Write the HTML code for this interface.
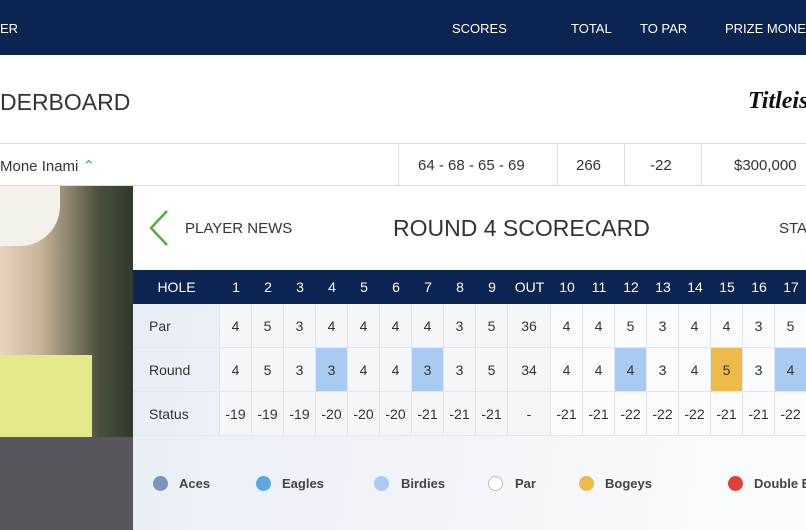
<!DOCTYPE html><html><head><style>
*{margin:0;padding:0;box-sizing:border-box}
body{width:806px;height:530px;overflow:hidden;position:relative;font-family:"Liberation Sans",sans-serif;background:#fff;color:#333;white-space:nowrap}
.a{position:absolute}
.nav{left:0;top:0;width:806px;height:55px;background:#0c2452;color:#fff;font-size:13px}
.nav span{position:absolute;top:21px}
.c{position:absolute;display:flex;align-items:center;justify-content:center;font-size:14px;color:#333;border-right:1px solid #e2e5ea;border-bottom:1px solid #e2e5ea}
.h{position:absolute;display:flex;align-items:center;justify-content:center;font-size:14px;color:#fff;top:270px;height:34px}
.dot{position:absolute;width:15px;height:15px;border-radius:50%;top:476px}
.lg{position:absolute;top:476px;font-size:13px;font-weight:bold;color:#444}
</style></head><body>
<div class="a nav"><span style="left:0">ER</span><span style="left:452px">SCORES</span><span style="left:571px">TOTAL</span><span style="left:640px">TO PAR</span><span style="left:725px">PRIZE MONEY</span></div>
<div class="a" style="left:0;top:89px;font-size:23px;color:#333">DERBOARD</div>
<div class="a" style="left:748px;top:88px;font-size:24px;font-style:italic;font-family:'Liberation Serif',serif;font-weight:bold;color:#111">Titleist</div>
<div class="a" style="left:0;top:143px;width:806px;height:43px;border-top:1px solid #ddd;border-bottom:1px solid #ddd"></div>
<div class="a" style="left:0;top:157px;font-size:15px">Mone Inami <span style="color:#4caf50">&#8963;</span></div>
<div class="a" style="left:398px;top:143px;width:1px;height:43px;background:#ddd"></div>
<div class="a" style="left:557px;top:143px;width:1px;height:43px;background:#ddd"></div>
<div class="a" style="left:624px;top:143px;width:1px;height:43px;background:#ddd"></div>
<div class="a" style="left:701px;top:143px;width:1px;height:43px;background:#ddd"></div>
<div class="a" style="left:418px;top:157px;font-size:15px">64 - 68 - 65 - 69</div>
<div class="a" style="left:576px;top:157px;font-size:15px">266</div>
<div class="a" style="left:650px;top:157px;font-size:15px">-22</div>
<div class="a" style="left:734px;top:157px;font-size:15px">$300,000</div>
<div class="a" style="left:0;top:186px;width:133px;height:251px;background:linear-gradient(90deg,#e8d4c0 0%,#c9b59a 30%,#4a4e3c 75%,#2f3a2c 100%)"></div>
<div class="a" style="left:0;top:186px;width:60px;height:60px;background:#f3f1ea;border-radius:0 0 40px 0"></div>
<div class="a" style="left:0;top:355px;width:92px;height:82px;background:#e4e98a"></div>
<div class="a" style="left:0;top:437px;width:133px;height:93px;background:#58555d"></div>
<div class="a" style="left:133px;top:186px;width:673px;height:84px;background:#fff"></div>
<div class="a" style="left:133px;top:304px;width:673px;height:226px;background:linear-gradient(100deg,#e9eef6 0%,#f4f6fa 60%,#fbfcfd 100%)"></div>
<svg class="a" style="left:148px;top:209px" width="22" height="38"><polyline points="19,2 3,19 19,36" fill="none" stroke="#5aab3e" stroke-width="2.5"/></svg>
<div class="a" style="left:185px;top:220px;font-size:15px;color:#333">PLAYER NEWS</div>
<div class="a" style="left:393px;top:215px;font-size:23px;color:#333">ROUND 4 SCORECARD</div>
<div class="a" style="left:779px;top:220px;font-size:15px;color:#333">STATS</div>
<div class="a" style="left:133px;top:270px;width:673px;height:34px;background:#0c2452"></div>
<div class="h" style="left:133px;width:87px">HOLE</div>
<div id="g"></div>
<div class="dot" style="left:153px;background:#7b96bb"></div><div class="lg" style="left:179px">Aces</div>
<div class="dot" style="left:256px;background:#5aa9e3"></div><div class="lg" style="left:282px">Eagles</div>
<div class="dot" style="left:374px;background:#a9cbf2"></div><div class="lg" style="left:401px">Birdies</div>
<div class="dot" style="left:488px;background:#fff;border:1px solid #bbb"></div><div class="lg" style="left:515px">Par</div>
<div class="dot" style="left:579px;background:#edbb4a"></div><div class="lg" style="left:605px">Bogeys</div>
<div class="dot" style="left:728px;background:#dc4235"></div><div class="lg" style="left:754px">Double Bogeys</div>
<script>
var cols=[],hd=["1","2","3","4","5","6","7","8","9","OUT","10","11","12","13","14","15","16","17","18"];
for(var i=0;i<9;i++)cols.push([220+32*i,32]);cols.push([508,43]);for(i=0;i<9;i++)cols.push([551+32*i,32]);
var par=[4,5,3,4,4,4,4,3,5,36,4,4,5,3,4,4,3,5,4];
var rd=[4,5,3,3,4,4,3,3,5,34,4,4,4,3,4,5,3,4,4];
var st=["-19","-19","-19","-20","-20","-20","-21","-21","-21","-","-21","-21","-22","-22","-22","-21","-21","-22","-22"];
var hl={3:"#a9cbf2",6:"#a9cbf2",12:"#a9cbf2",17:"#a9cbf2",15:"#edbb4a"};
var s="";var rows=[["Par",par,304],["Round",rd,348],["Status",st,392]];
rows.forEach(function(r,ri){
s+='<div class="c" style="left:133px;top:'+r[2]+'px;width:87px;height:44px;justify-content:flex-start;padding-left:16px">'+r[0]+'</div>';
cols.forEach(function(c,ci){var bg=(ri==1&&hl[ci])?hl[ci]:(c[0]<540?"#f4f6f9":"#fafbfc");
s+='<div class="c" style="left:'+c[0]+'px;top:'+r[2]+'px;width:'+c[1]+'px;height:44px;background:'+bg+'">'+r[1][ci]+'</div>';});});
cols.forEach(function(c,ci){s+='<div class="h" style="left:'+c[0]+'px;width:'+c[1]+'px">'+hd[ci]+'</div>';});
document.getElementById("g").innerHTML=s;
</script>
</body></html>
